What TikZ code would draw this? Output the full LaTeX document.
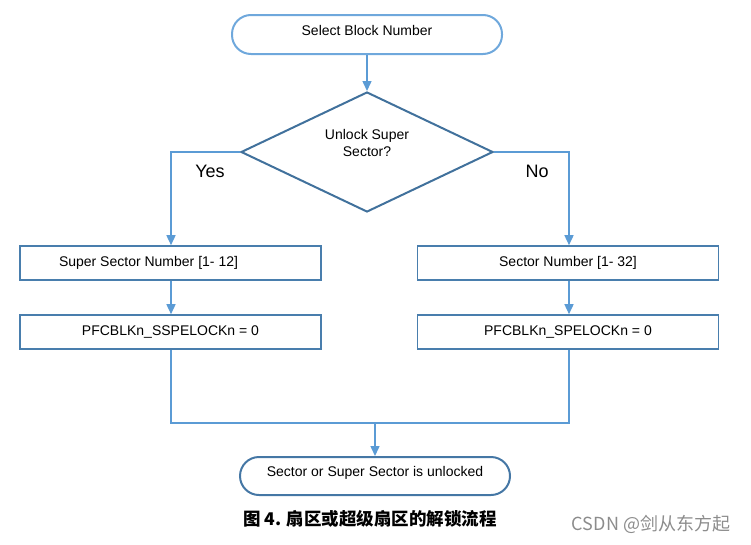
\documentclass[tikz,border=0pt]{standalone}
\usepackage{fontspec}
\setmainfont{Liberation Sans}
\newfontfamily\cjk{Noto Sans CJK SC}
\usetikzlibrary{shapes.geometric,arrows.meta}
\definecolor{lineblue}{HTML}{5B9BD5}
\definecolor{darkblue}{HTML}{41719C}
\definecolor{termblue}{HTML}{6FA8DC}
\tikzset{
  txt/.style={font=\fontsize{14}{16}\selectfont, text=black},
  term/.style={txt, draw=termblue, line width=2pt, rounded corners=19pt, minimum width=270pt, minimum height=39pt, inner sep=0pt},
  endterm/.style={txt, draw=darkblue!85!lineblue, line width=2pt, rounded corners=19pt, minimum width=270pt, minimum height=38pt, inner sep=0pt},
  decision/.style={txt, draw=darkblue, line width=2pt, diamond, aspect=2.1, minimum width=252pt, minimum height=120pt, inner sep=0pt, align=center},
  procbox/.style={txt, draw=darkblue!70!lineblue, line width=1.6pt, minimum width=301pt, minimum height=34pt, inner sep=0pt},
  conn/.style={draw=lineblue, line width=1.5pt},
  arr/.style={conn, -{Triangle[length=10pt,width=9pt]}},
  lab/.style={font=\fontsize{18}{20}\selectfont, text=black}
}
\begin{document}
\begin{tikzpicture}[x=1pt,y=-1pt]
\useasboundingbox (0,0) rectangle (751,544);
\node[term] (start) at (367,34.5) {\raisebox{9pt}{Select Block Number}};
\node[decision] (dec) at (367,152) {};
\node[txt, align=center] (dectxt) at (367,143) {Unlock Super\\[1pt]Sector?};
\node[procbox] (b1) at (170.5,263) {\hspace*{-44pt}Super Sector Number [1- 12]};
\node[procbox] (b2) at (568,263) {Sector Number [1- 32]};
\node[procbox] (b3) at (170.5,332) {PFCBLKn\_SSPELOCKn = 0};
\node[procbox] (b4) at (568,332) {PFCBLKn\_SPELOCKn = 0};
\node[endterm] (end) at (375,476) {\raisebox{9pt}{Sector or Super Sector is unlocked}};
\node[lab] (yes) at (210,171) {Yes};
\node[lab] (no) at (537,171) {No};
\coordinate (mergeL) at (171,423);
\coordinate (mergeR) at (569,423);
\coordinate (mergeC) at (375,423);
\draw[arr] (start.south) -- (dec.north);
\draw[arr] (dec.west) -| (b1.north -| 171,0);
\draw[arr] (dec.east) -| (b2.north -| 569,0);
\draw[arr] (b1.south -| 171,0) -- (b3.north -| 171,0);
\draw[arr] (b2.south -| 569,0) -- (b4.north -| 569,0);
\draw[conn] (b3.south -| 171,0) -- (mergeL) -- (mergeR) -- (b4.south -| 569,0);
\draw[arr] (mergeC) -- (end.north);
\node[font=\cjk\fontsize{17.5}{19}\selectfont\bfseries, text=black] (cap) at (370,519) {图 4. 扇区或超级扇区的解锁流程};
\node[font=\cjk\fontsize{18}{20}\selectfont, text=black!45] (wm) at (651,524) {CSDN @剑从东方起};
\end{tikzpicture}
\end{document}
